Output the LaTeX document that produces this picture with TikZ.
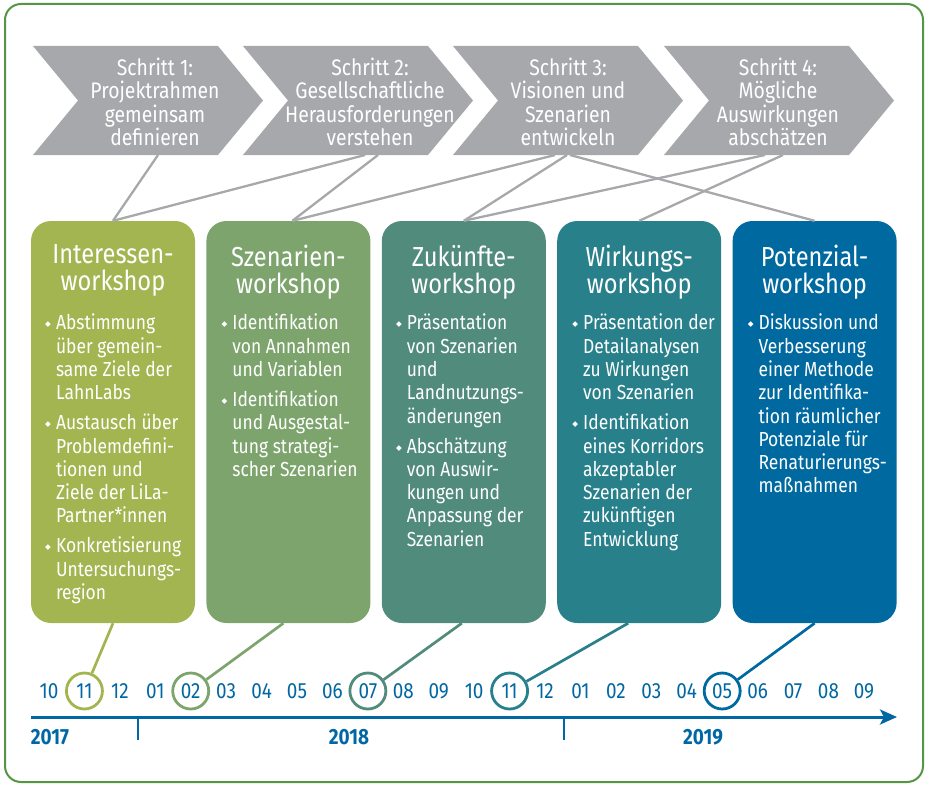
\documentclass[tikz,border=0pt]{standalone}
\usepackage{fontspec}
\setmainfont{Fira Sans}[FakeStretch=0.86]
\newfontfamily\dejavu{DejaVu Sans}
\usepackage{tikz}
\usetikzlibrary{arrows.meta, positioning, calc}
\definecolor{frameGreen}{RGB}{84,150,70}
\definecolor{stepGray}{RGB}{167,168,171}
\definecolor{wsOne}{RGB}{162,181,80}
\definecolor{wsTwo}{RGB}{124,164,108}
\definecolor{wsThree}{RGB}{81,139,123}
\definecolor{wsFour}{RGB}{40,128,139}
\definecolor{wsFive}{RGB}{0,106,160}
\definecolor{timeBlue}{RGB}{0,103,164}
\newcommand{\bul}{\llap{\raisebox{3pt}{\fontsize{7.5}{8}\dejavu ◆}\hspace{5pt}}}
\tikzset{
    stepText/.style={text=white, align=center, inner sep=0pt, font=\fontsize{22.5}{23.5}\selectfont},
    wsBox/.style={rounded corners=20pt, minimum width=164pt, minimum height=402pt, inner sep=0pt},
    wsTitle/.style={text=white, align=center, anchor=north, inner sep=0pt, font=\fontsize{27.5}{27}\selectfont},
    wsList/.style={text=white, align=left, anchor=north west, inner sep=0pt, font=\fontsize{20.3}{23.3}\selectfont},
    stepLink/.style={draw=stepGray, line width=2.3pt},
    dateLink/.style={line width=2.7pt},
    monthLabel/.style={text=timeBlue, inner sep=0pt, font=\fontsize{22}{22}\selectfont},
    monthRing/.style={circle, line width=2.8pt, minimum size=36pt, inner sep=0pt},
    yearLabel/.style={text=timeBlue, inner sep=0pt, font=\bfseries\fontsize{22}{22}\selectfont}
}

\begin{document}
\begin{tikzpicture}[x=1pt, y=-1pt]
    \useasboundingbox (0,0) rectangle (925,784);
    \draw[frameGreen, line width=2pt, rounded corners=16pt] (5,4) rectangle (923,782);

    \foreach \x/\c/\n/\t in {33/155/1/{Schritt 1:\\Projektrahmen\\gemeinsam\\definieren},
                             243/370/2/{Schritt 2:\\Gesellschaftliche\\Herausforderungen\\verstehen},
                             453/568/3/{Schritt 3:\\Visionen und\\Szenarien\\entwickeln},
                             664/778/4/{Schritt 4:\\Mögliche\\Auswirkungen\\abschätzen}}{
        \fill[stepGray] (\x,46) -- ++(185,0) -- ++(45,54.5) -- ++(-45,54.5) -- ++(-185,0) -- ++(45,-54.5) -- cycle;
        \node[stepText] (step\n) at (\c,102) {\t};
    }

    \foreach \x/\n/\c in {113/1/wsOne, 288.4/2/wsTwo, 463.8/3/wsThree, 639.2/4/wsFour, 814.6/5/wsFive}
        \node[wsBox, fill=\c] (ws\n) at (\x,422) {};

    \node[wsTitle] (title1) at ($(ws1.north)+(0,24)$) {Interessen-\\workshop};
    \node[wsTitle] (title2) at ($(ws2.north)+(0,24)$) {Szenarien-\\workshop};
    \node[wsTitle] (title3) at ($(ws3.north)+(0,24)$) {Zukünfte-\\workshop};
    \node[wsTitle] (title4) at ($(ws4.north)+(0,24)$) {Wirkungs-\\workshop};
    \node[wsTitle] (title5) at ($(ws5.north)+(0,24)$) {Potenzial-\\workshop};

    \node[wsList] (list1) at ($(ws1.north west)+(25,93)$) {\bul Abstimmung\\über gemein-\\same Ziele der\\LahnLabs\\[6.7pt]
        \bul Austausch über\\Problemdefini-\\tionen und\\Ziele der LiLa-\\Partner*innen\\[6.7pt]
        \bul Konkretisierung\\Untersuchungs-\\region};
    \node[wsList] (list2) at ($(ws2.north west)+(26,93)$) {\bul Identifikation\\von Annahmen\\und Variablen\\[6.7pt]
        \bul Identifikation\\und Ausgestal-\\tung strategi-\\scher Szenarien};
    \node[wsList] (list3) at ($(ws3.north west)+(25,93)$) {\bul Präsentation\\von Szenarien\\und\\Landnutzungs-\\änderungen\\[6.7pt]
        \bul Abschätzung\\von Auswir-\\kungen und\\Anpassung der\\Szenarien};
    \node[wsList] (list4) at ($(ws4.north west)+(26,93)$) {\bul Präsentation der\\Detailanalysen\\zu Wirkungen\\von Szenarien\\[6.7pt]
        \bul Identifikation\\eines Korridors\\akzeptabler\\Szenarien der\\zukünftigen\\Entwicklung};
    \node[wsList] (list5) at ($(ws5.north west)+(26,93)$) {\bul Diskussion und\\Verbesserung\\einer Methode\\zur Identifika-\\tion räumlicher\\Potenziale für\\Renaturierungs-\\maßnahmen};

    \coordinate (s1a) at (158,155);
    \coordinate (s2a) at (365,155);  \coordinate (s2b) at (378,155);
    \coordinate (s3a) at (555,155);  \coordinate (s3b) at (567,155);  \coordinate (s3c) at (570,155);
    \coordinate (s4a) at (765,155);  \coordinate (s4b) at (783,155);
    \draw[stepLink] (s1a) -- (ws1.north);
    \draw[stepLink] (s2a) -- (ws1.north);
    \draw[stepLink] (s2b) -- ($(ws2.north)+(4,0)$);
    \draw[stepLink] (s3a) -- ($(ws2.north)+(4,0)$);
    \draw[stepLink] (s3b) -- (ws3.north);
    \draw[stepLink] (s3c) -- (ws5.north);
    \draw[stepLink] (s4a) -- (ws3.north);
    \draw[stepLink] (s4b) -- (ws4.north);

    \foreach \m [count=\i] in {10,11,12,01,02,03,04,05,06,07,08,09,10,11,12,01,02,03,04,05,06,07,08,09}
        \node[monthLabel] (m\i) at ({49+35.43*(\i-1)},691) {\m};

    \node[monthRing, draw=wsOne] (ring1) at (m2) {};
    \node[monthRing, draw=wsTwo] (ring2) at (m5) {};
    \node[monthRing, draw=wsThree] (ring3) at (m10) {};
    \node[monthRing, draw=wsFour] (ring4) at (m14) {};
    \node[monthRing, draw=wsFive] (ring5) at (m20) {};
    \draw[dateLink, wsOne] (ws1.south) -- (ring1);
    \draw[dateLink, wsTwo] ($(ws2.south)+(-5,0)$) -- (ring2);
    \draw[dateLink, wsThree] ($(ws3.south)+(-2,0)$) -- (ring3);
    \draw[dateLink, wsFour] ($(ws4.south)+(-11,0)$) -- (ring4);
    \draw[dateLink, wsFive] (ws5.south) -- (ring5);

    \coordinate (t0) at (31,717);
    \coordinate (t1) at (897,717);
    \draw[timeBlue, line width=3pt, -{Stealth[length=17pt, width=15pt, inset=4pt]}] (t0) -- (t1);
    \draw[timeBlue, line width=2.5pt] (138,717) -- (138,740);
    \draw[timeBlue, line width=2.5pt] (564,717) -- (564,740);
    \node[yearLabel] (y2017) at (50,737) {2017};
    \node[yearLabel] (y2018) at (349,737) {2018};
    \node[yearLabel] (y2019) at (703,737) {2019};
\end{tikzpicture}
\end{document}
